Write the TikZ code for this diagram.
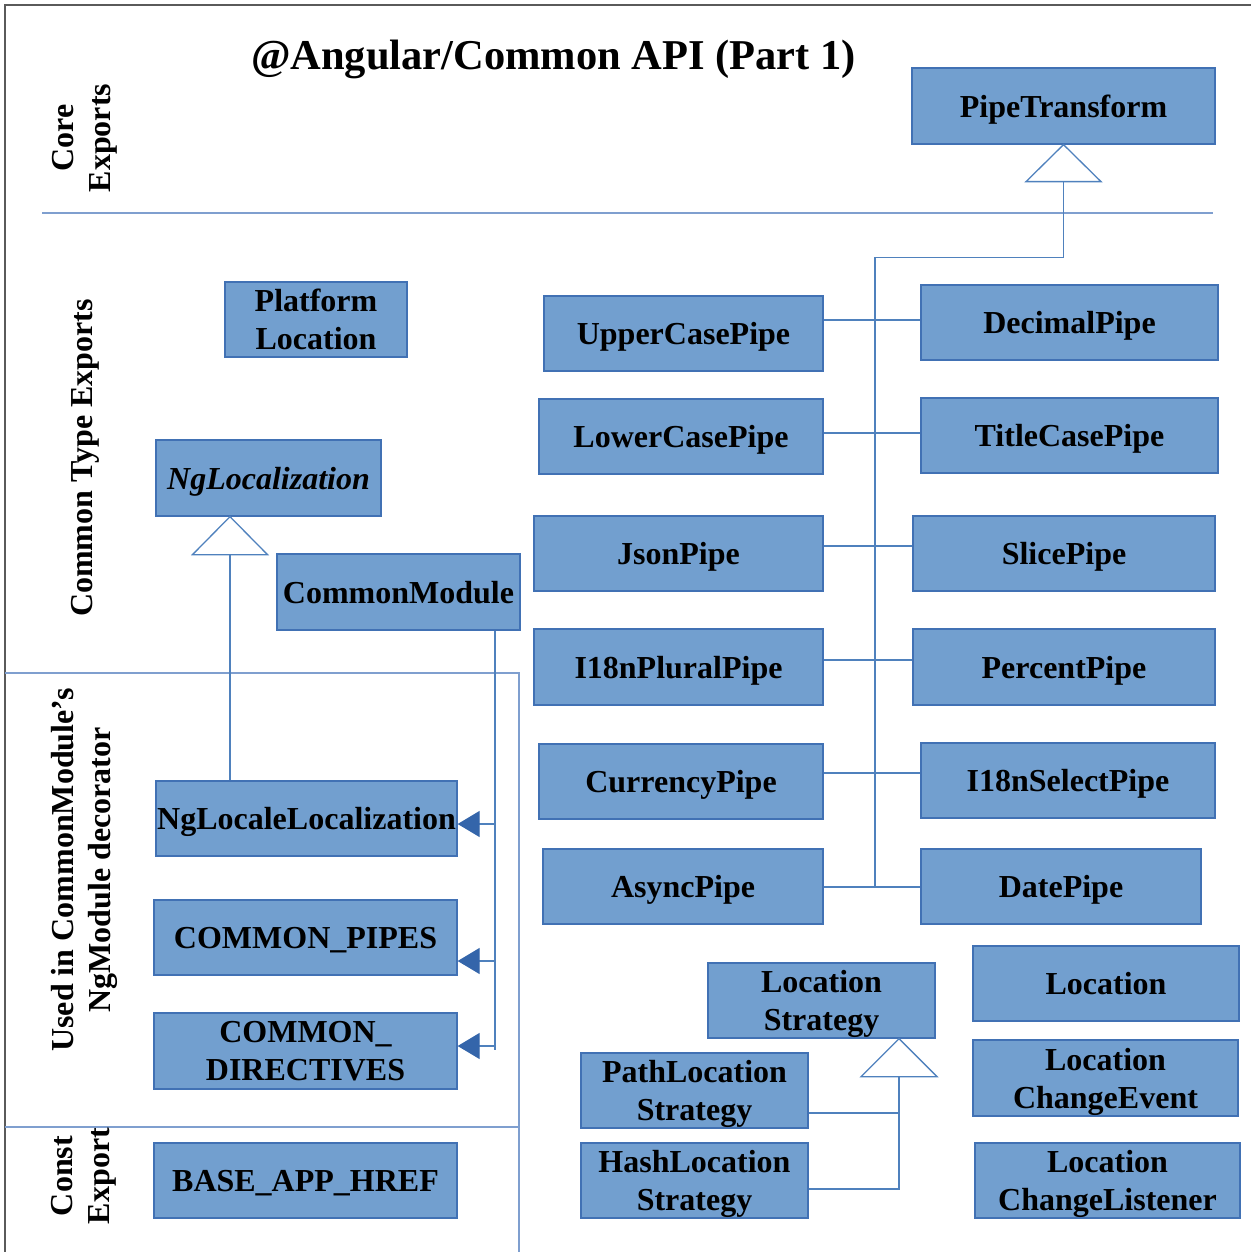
\documentclass[tikz,border=0pt]{standalone}
\usepackage{fontspec}
\setmainfont{Liberation Serif}
\usetikzlibrary{arrows.meta}
\definecolor{boxfill}{RGB}{114,159,207}
\definecolor{boxline}{RGB}{65,113,180}
\definecolor{conn}{RGB}{79,129,189}
\definecolor{sep}{RGB}{127,159,207}
\definecolor{headc}{RGB}{52,101,170}
\definecolor{frame}{RGB}{90,90,90}
\begin{document}
\begin{tikzpicture}[x=1pt,y=-1pt,
 box/.style={draw=boxline,fill=boxfill,line width=1.3pt,inner sep=0pt,align=center,text depth=0pt,font=\fontsize{32}{38}\selectfont\bfseries},
 wire/.style={draw=conn,line width=1.3pt},
 tri/.style={draw=conn,fill=white,line width=1.3pt},
 seprule/.style={draw=sep,line width=1.3pt},
 sidelabel/.style={rotate=90,align=center,font=\fontsize{32}{37}\selectfont\bfseries,inner sep=0pt},
 dep/.style={wire,-{Triangle[length=22pt,width=26pt,color=headc]}}]
\useasboundingbox (0,0) rectangle (1251,1252);
% frame
\draw[frame,line width=1.3pt] (5,1252) -- (5,5) -- (1251,5);
% section rules
\draw[seprule] (42,213) -- (1213,213);
\draw[seprule] (5,673) -- (519,673) -- (519,1252);
\draw[seprule] (5,1127) -- (519,1127);
% title
\node[font=\fontsize{42.5}{48}\selectfont\bfseries,inner sep=0pt,anchor=base] (ttl) at (553.5,70) {@Angular/Common API (Part 1)};
% side labels
\node[sidelabel] (lcore) at (85,138) {Core\\Exports};
\node[sidelabel] (lctype) at (85,458) {Common Type Exports};
\node[sidelabel] (lused) at (84,870) {Used in CommonModule’s\\NgModule decorator};
\node[sidelabel] (lconst) at (84,1176) {Const\\Export};
% boxes
\node[box,minimum width=303pt,minimum height=76pt] (pt) at (1063.5,106) {PipeTransform};
\node[box,minimum width=297pt,minimum height=75pt] (dec) at (1069.5,322.5) {DecimalPipe};
\node[box,minimum width=279pt,minimum height=75pt] (up) at (683.5,333.5) {UpperCasePipe};
\node[box,minimum width=284pt,minimum height=75pt] (low) at (681,436.5) {LowerCasePipe};
\node[box,minimum width=297pt,minimum height=75pt] (tit) at (1069.5,435.5) {TitleCasePipe};
\node[box,minimum width=289pt,minimum height=75pt] (json) at (678.5,553.5) {JsonPipe};
\node[box,minimum width=302pt,minimum height=75pt] (slice) at (1064,553.5) {SlicePipe};
\node[box,minimum width=289pt,minimum height=76pt] (plural) at (678.5,667) {I18nPluralPipe};
\node[box,minimum width=302pt,minimum height=76pt] (pct) at (1064,667) {PercentPipe};
\node[box,minimum width=284pt,minimum height=75pt] (cur) at (681,781.5) {CurrencyPipe};
\node[box,minimum width=294pt,minimum height=75pt] (sel) at (1068,780.5) {I18nSelectPipe};
\node[box,minimum width=280pt,minimum height=75pt] (async) at (683,886.5) {AsyncPipe};
\node[box,minimum width=280pt,minimum height=75pt] (date) at (1061,886.5) {DatePipe};
\node[box,minimum width=182pt,minimum height=75pt] (plat) at (316,319.5) {Platform\\Location};
\node[box,minimum width=225pt,minimum height=76pt,font=\fontsize{32}{38}\selectfont\bfseries\itshape] (ngl) at (268.5,478) {NgLocalization};
\node[box,minimum width=243pt,minimum height=76pt] (cm) at (398.5,592) {CommonModule};
\node[box,minimum width=301pt,minimum height=75pt] (nll) at (306.5,818.5) {NgLocaleLocalization};
\node[box,minimum width=303pt,minimum height=75pt] (cp) at (305.5,937.5) {COMMON\_PIPES};
\node[box,minimum width=303pt,minimum height=76pt] (cd) at (305.5,1051) {COMMON\_\\DIRECTIVES};
\node[box,minimum width=303pt,minimum height=75pt] (base) at (305.5,1180.5) {BASE\_APP\_HREF};
\node[box,minimum width=227pt,minimum height=75pt] (ls) at (821.5,1000.5) {Location\\Strategy};
\node[box,minimum width=227pt,minimum height=75pt] (pls) at (694.5,1090.5) {PathLocation\\Strategy};
\node[box,minimum width=227pt,minimum height=75pt] (hls) at (694.5,1180.5) {HashLocation\\Strategy};
\node[box,minimum width=266pt,minimum height=75pt] (loc) at (1106,983.5) {Location};
\node[box,minimum width=265pt,minimum height=76pt] (lce) at (1105.5,1078) {Location\\ChangeEvent};
\node[box,minimum width=265pt,minimum height=75pt] (lcl) at (1107.5,1180.5) {Location\\ChangeListener};
% helper coordinates
\coordinate (xtrunk) at (875,0);
\coordinate (xng) at (230,0);
\coordinate (xcm) at (495,0);
\coordinate (xls) at (899,0);
% pipe hierarchy
\draw[wire] (pt.south) ++(0,37) -- ++(0,76) -| (xtrunk |- async.east);
\draw[tri] (pt.south) -- ++(-37.5,37) -- ++(75,0) -- cycle;
\draw[wire] (up.east |- 0,320) -- (dec.west |- 0,320);
\draw[wire] (low.east |- 0,433) -- (tit.west |- 0,433);
\draw[wire] (json.east |- 0,546) -- (slice.west |- 0,546);
\draw[wire] (plural.east |- 0,660) -- (pct.west |- 0,660);
\draw[wire] (cur.east |- 0,773) -- (sel.west |- 0,773);
\draw[wire] (async.east |- 0,887) -- (date.west |- 0,887);
% NgLocalization
\coordinate (ngapex) at (ngl.south -| xng);
\draw[wire] (ngapex) ++(0,38) -- (nll.north -| xng);
\draw[tri] (ngapex) -- ++(-37.5,38) -- ++(75,0) -- cycle;
% CommonModule declarations
\draw[wire] (cm.south -| xcm) -- (xcm |- 0,1050);
\draw[dep] (xcm |- 0,824) -- (nll.east |- 0,824);
\draw[dep] (xcm |- 0,961) -- (cp.east |- 0,961);
\draw[dep] (xcm |- 0,1046) -- (cd.east |- 0,1046);
% LocationStrategy
\coordinate (lsapex) at (ls.south -| xls);
\draw[wire] (pls.east |- 0,1113) -| (xls |- 0,1076);
\draw[wire] (hls.east |- 0,1189) -| (xls |- 0,1113);
\draw[tri] (lsapex) -- ++(-38,38) -- ++(76,0) -- cycle;
\end{tikzpicture}
\end{document}
